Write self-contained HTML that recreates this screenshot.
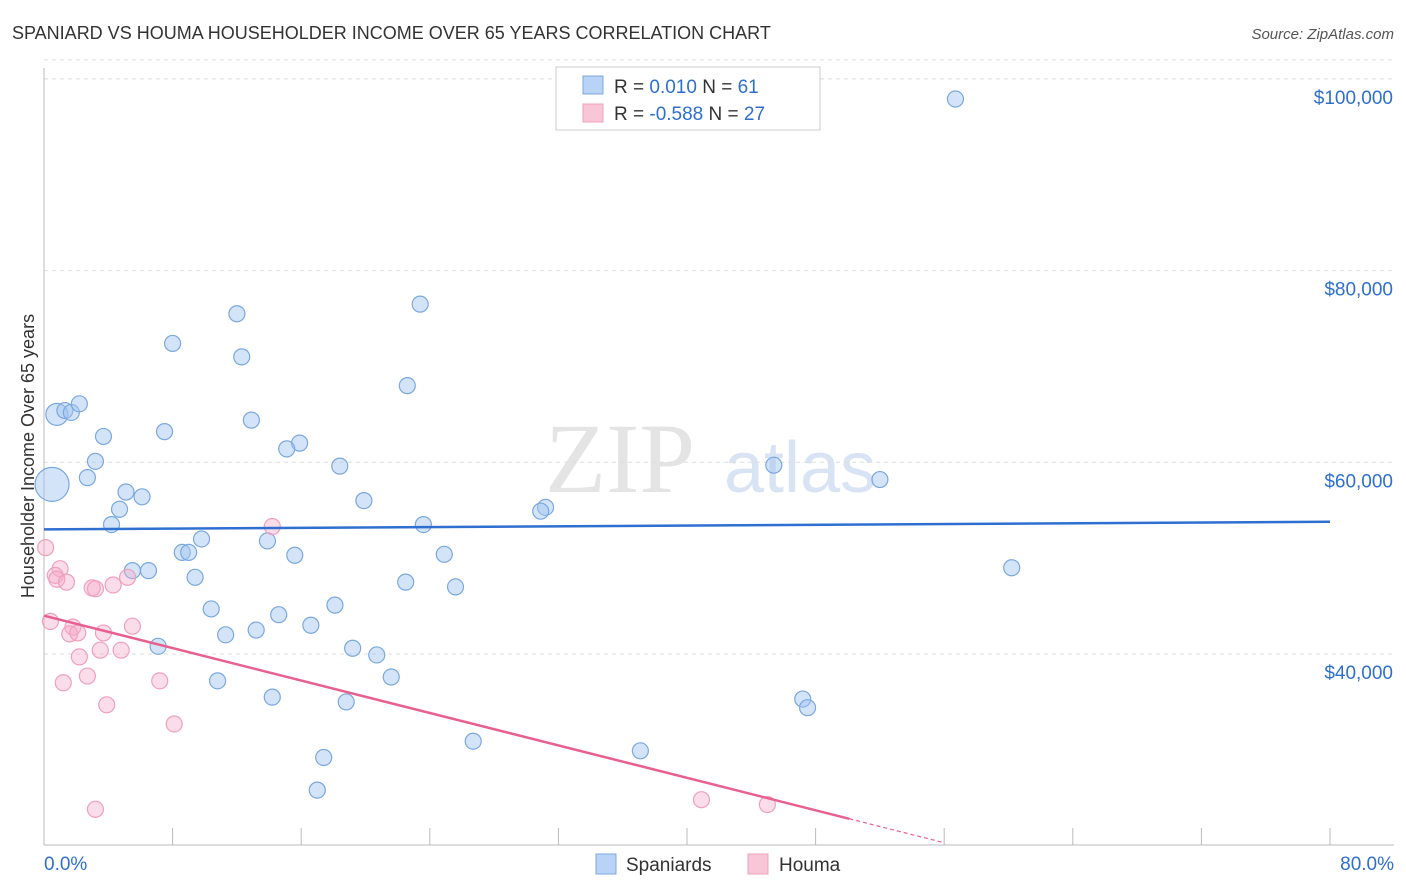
<!DOCTYPE html>
<html><head><meta charset="utf-8"><style>
body{margin:0;background:#fff;font-family:"Liberation Sans",sans-serif;}
svg{display:block}
</style></head><body>
<svg id="chart" width="1406" height="892">
<text x="12" y="39" font-size="18" fill="#333">SPANIARD VS HOUMA HOUSEHOLDER INCOME OVER 65 YEARS CORRELATION CHART</text>
<text x="1394" y="39" font-size="15" fill="#555" font-style="italic" text-anchor="end">Source: ZipAtlas.com</text>
<text x="0" y="0" transform="translate(34,456) rotate(-90)" font-size="18" fill="#333" text-anchor="middle">Householder Income Over 65 years</text>
<text x="620" y="492" font-size="100" fill="#e4e4e4" font-family="Liberation Serif,serif" text-anchor="middle">ZIP</text>
<text x="800" y="492" font-size="72" fill="#d8e4f4" text-anchor="middle">atlas</text>
<g id="grid"></g><g id="ticks"></g><g id="marks"></g>
<g>
<rect x="556" y="67" width="264" height="63" fill="#fff" stroke="#ccc"/>
<rect x="583" y="76" width="20" height="18" fill="#b8d3f5" stroke="#7aa8e0"/>
<rect x="583" y="104" width="20" height="18" fill="#f9c6d8" stroke="#f0a0bd"/>
<text x="614" y="93" font-size="19" fill="#333">R = <tspan fill="#2f6fd0"> 0.010</tspan>   N = <tspan fill="#2f6fd0"> 61</tspan></text>
<text x="614" y="120" font-size="19" fill="#333">R = <tspan fill="#2f6fd0">-0.588</tspan>   N = <tspan fill="#2f6fd0">27</tspan></text>
</g>
<g>
<rect x="596" y="854" width="20" height="20" fill="#b8d3f5" stroke="#7aa8e0"/>
<text x="626" y="871" font-size="19" fill="#333">Spaniards</text>
<rect x="748" y="854" width="20" height="20" fill="#f9c6d8" stroke="#f0a0bd"/>
<text x="779" y="871" font-size="19" fill="#333">Houma</text>
</g>
</svg>
<script>
const yTicks=[40000,60000,80000,100000];
const yTickLabels=["$40,000","$60,000","$80,000","$100,000"];
const xLabels=["0.0%","80.0%"];
const spanX=[56.7,23.4,12.0,8.0,12.3,22.6,0.8,1.3,1.7,2.2,12.9,3.7,7.5,15.9,15.1,3.2,18.4,45.4,0.5,2.7,52.0,5.1,6.1,19.9,31.2,30.9,4.7,4.2,23.6,9.8,13.9,8.6,9.0,15.6,24.9,5.5,6.5,60.2,9.4,22.5,25.6,18.1,10.4,14.6,16.6,13.2,11.3,7.1,19.2,20.7,21.6,10.8,14.2,18.8,47.2,47.5,26.7,37.1,17.4,17.0];
const spanY=[97.9,76.5,75.5,72.4,71.0,68.0,65.0,65.4,65.2,66.1,64.4,62.7,63.2,62.0,61.4,60.1,59.6,59.7,57.7,58.4,58.2,56.9,56.4,56.0,55.3,54.9,55.1,53.5,53.5,52.0,51.8,50.6,50.6,50.3,50.4,48.7,48.7,49.0,48.0,47.5,47.0,45.1,44.7,44.1,43.0,42.5,42.0,40.8,40.6,39.9,37.6,37.2,35.5,35.0,35.3,34.4,30.9,29.9,29.2,25.8];
const houmaX=[0.1,14.2,1.0,0.7,0.8,1.4,3.0,3.2,4.3,5.2,0.4,1.8,1.6,2.1,3.7,5.5,3.5,4.8,2.2,2.7,1.2,7.2,3.9,8.1,3.2,40.9,45.0];
const houmaY=[51.1,53.3,48.9,48.2,47.8,47.5,46.9,46.8,47.2,48.0,43.4,42.8,42.1,42.2,42.2,42.9,40.4,40.4,39.7,37.7,37.0,37.2,34.7,32.7,23.8,24.8,24.3];
const spanTrend=[53.0,53.8];
const houmaTrend=[44.0,-0.423];
const NS="http://www.w3.org/2000/svg";
const X=v=>44+v*16.075;
const Y=k=>654-(k-40)*9.585;
function mk(p,tag,a){const e=document.createElementNS(NS,tag);for(const k in a)e.setAttribute(k,a[k]);p.appendChild(e);return e;}
const grid=document.getElementById('grid'),ticks=document.getElementById('ticks'),marks=document.getElementById('marks');
yTicks.forEach((t,i)=>{const y=Y(t/1000);
const l=mk(grid,'line',{x1:44,x2:1394,y1:y,y2:y,stroke:'#ddd','stroke-dasharray':'4,4'});

const tx=mk(ticks,'text',{x:1393,y:y+25,'font-size':19,fill:'#2f6fd0','text-anchor':'end'});tx.textContent=yTickLabels[i];
});
const tl=mk(grid,'line',{x1:44,x2:1394,y1:Y(100)-19,y2:Y(100)-19,stroke:'#ddd','stroke-dasharray':'4,4'});

const ax=mk(ticks,'line',{x1:44,x2:1394,y1:845,y2:845,stroke:'#bbb'});

const ay=mk(ticks,'line',{x1:44,x2:44,y1:68,y2:845,stroke:'#bbb'});

for(let i=0;i<=10;i++){const t=mk(ticks,'line',{x1:X(i*8),x2:X(i*8),y1:828,y2:845,stroke:'#bbb'});
}
const xl0=mk(ticks,'text',{x:44,y:870,'font-size':19,fill:'#2f6fd0'});xl0.textContent=xLabels[0];

const xl1=mk(ticks,'text',{x:1394,y:870,'font-size':19,fill:'#2f6fd0','text-anchor':'end'});xl1.textContent=xLabels[1];

spanX.forEach((v,i)=>{const r=i==18?17:(i==6?11:8);
const c=mk(marks,'circle',{cx:X(v),cy:Y(spanY[i]),r:r,fill:'rgba(160,196,240,0.45)',stroke:'#7aa8e0','stroke-width':1.2});
});
houmaX.forEach((v,i)=>{const c=mk(marks,'circle',{cx:X(v),cy:Y(houmaY[i]),r:8,fill:'rgba(246,170,200,0.4)',stroke:'#f0a0bd','stroke-width':1.2});
});
const bl=mk(marks,'line',{x1:X(0),x2:X(80),y1:Y(spanTrend[0]),y2:Y(spanTrend[1]),stroke:'#2f6fd0','stroke-width':2.5});

const hy=x=>houmaTrend[0]+houmaTrend[1]*x;
const pl=mk(marks,'line',{x1:X(0),x2:X(50.1),y1:Y(hy(0)),y2:Y(hy(50.1)),stroke:'#e8608f','stroke-width':2.5});

const pd=mk(marks,'line',{x1:X(50.1),x2:X(56),y1:Y(hy(50.1)),y2:Y(hy(56)),stroke:'#e8608f','stroke-width':1.2,'stroke-dasharray':'4,3'});

</script>
</body></html>
